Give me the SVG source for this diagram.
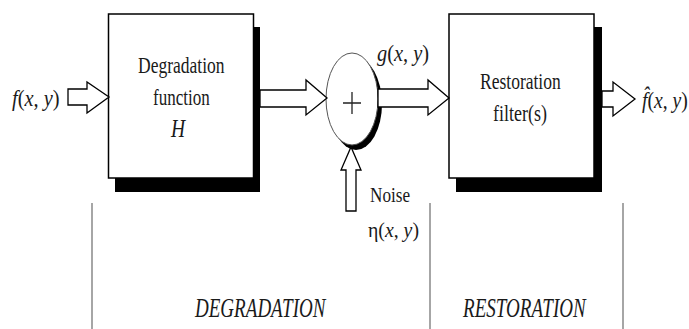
<svg xmlns="http://www.w3.org/2000/svg" width="689" height="329" viewBox="0 0 689 329">
<style>
.box{fill:#fff;stroke:#000;stroke-width:1.5}
.shadow{fill:#000}
.arrow{fill:#fff;stroke:#000;stroke-width:1.3;stroke-linejoin:miter}
.t{font-family:"Liberation Serif","Times New Roman",serif;fill:#1a1a1a}
.i{font-style:italic}
.sep{stroke:#888;stroke-width:1.5}
</style>
<rect width="689" height="329" fill="#fff"/>
<g id="degradation">
<rect class="shadow" x="115" y="27" width="145" height="165"/>
<rect class="box" x="108.5" y="14" width="145" height="164"/>
<text class="t" transform="translate(138,73) scale(0.73,1)" font-size="24">Degradation</text>
<text class="t" transform="translate(153,105) scale(0.71,1)" font-size="24">function</text>
<text class="t i" transform="translate(171,137) scale(0.75,1)" font-size="26">H</text>
</g>
<g id="sum">
<ellipse class="shadow" cx="356" cy="104" rx="26" ry="46"/>
<ellipse cx="352" cy="99" rx="26" ry="46" fill="#fff" stroke="#555" stroke-width="1"/>
<path d="M343 103H361M352 92V114" stroke="#222" stroke-width="1.3" fill="none"/>
</g>
<g id="restoration">
<rect class="shadow" x="456" y="27" width="146" height="165"/>
<rect class="box" x="449" y="14" width="145" height="164"/>
<text class="t" transform="translate(480,89) scale(0.73,1)" font-size="24">Restoration</text>
<text class="t" transform="translate(493,121) scale(0.75,1)" font-size="24">filter(s)</text>
</g>
<g id="connectors">
<polygon class="arrow" points="68,89 87,89 87,82 109,97 87,113 87,105 68,105"/>
<polygon class="arrow" points="260,90 306,90 306,80 327,98 306,115 306,107 260,107"/>
<polygon class="arrow" points="378,89 428,89 428,80 449,98 428,115 428,107 378,107"/>
<polygon class="arrow" points="602,91 613,91 613,82 635,99 613,116 613,107 602,107"/>
<polygon class="arrow" points="346,211 346,170 341,170 351,147 361,170 356,170 356,211"/>
</g>
<g id="labels">
<text class="t" transform="translate(12,106) scale(0.85,1)" font-size="24"><tspan class="i">f</tspan>(<tspan class="i">x</tspan>, <tspan class="i">y</tspan>)</text>
<text class="t" transform="translate(377,61) scale(0.85,1)" font-size="24"><tspan class="i">g</tspan>(<tspan class="i">x</tspan>, <tspan class="i">y</tspan>)</text>
<text class="t" transform="translate(642,108) scale(0.82,1)" font-size="24"><tspan class="i">f̂</tspan>(<tspan class="i">x</tspan>, <tspan class="i">y</tspan>)</text>
<text class="t" transform="translate(370,202) scale(0.78,1)" font-size="22">Noise</text>
<text class="t" transform="translate(368,237) scale(0.9,1)" font-size="22">η(<tspan class="i">x</tspan>, <tspan class="i">y</tspan>)</text>
<text class="t i" transform="translate(195,317) scale(0.68,1)" font-size="28">DEGRADATION</text>
<text class="t i" transform="translate(463,317) scale(0.68,1)" font-size="28">RESTORATION</text>
</g>
<g id="separators">
<line class="sep" x1="92" y1="203" x2="92" y2="329"/>
<line class="sep" x1="430" y1="203" x2="430" y2="329"/>
<line class="sep" x1="623" y1="203" x2="623" y2="329"/>
</g>
</svg>
